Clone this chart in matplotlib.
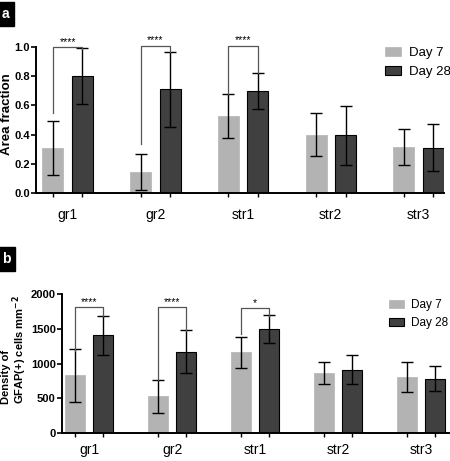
import matplotlib.pyplot as plt
import numpy as np

plt.rcParams['font.family'] = ['Liberation Sans', 'DejaVu Sans']

groups = ['gr1', 'gr2', 'str1', 'str2', 'str3']

# panel a: area fraction
area_d7 = [0.31, 0.145, 0.53, 0.40, 0.315]
area_d7_err = [0.185, 0.125, 0.15, 0.15, 0.125]
area_d28 = [0.80, 0.71, 0.70, 0.395, 0.31]
area_d28_err = [0.19, 0.255, 0.125, 0.20, 0.16]

# panel b: GFAP(+) density
dens_d7 = [828, 529, 1159, 865, 803]
dens_d7_err = [375, 240, 220, 155, 215]
dens_d28 = [1409, 1168, 1495, 913, 779]
dens_d28_err = [280, 310, 205, 210, 180]

# significance brackets: (group index, top, left leg end, right leg end, label)
sig_a = [(0, 1.0, 0.55, 0.985, '****'),
         (1, 1.01, 0.335, 0.965, '****'),
         (2, 1.01, 0.68, 0.825, '****')]
sig_b = [(0, 1815, 1185, 1680, '****'),
         (1, 1815, 765, 1470, '****'),
         (2, 1800, 1430, 1690, '*')]

light = '#b3b3b3'
dark = '#404040'
w = 0.24
off = 0.168

W, H = 450, 461
fig = plt.figure(figsize=(W / 100, H / 100), dpi=100)


def panel(rect, d7, e7, d28, e28, ylim, yticks, sig, lpos, xlim, lab_y, lfs):
    ax = fig.add_axes(rect)
    x = np.arange(len(groups))
    ekw = dict(ecolor='black', elinewidth=1.0, capsize=4, capthick=1.0)
    ax.bar(x - off, d7, w, color=light, edgecolor=light, linewidth=0.5,
           yerr=e7, error_kw=ekw, label='Day 7', zorder=2)
    ax.bar(x + off, d28, w, color=dark, edgecolor='black', linewidth=0.8,
           yerr=e28, error_kw=ekw, label='Day 28', zorder=2)
    ax.set_xlim(*xlim)
    ax.set_ylim(*ylim)
    ax.set_yticks(yticks)
    ax.set_xticks(np.concatenate([x - off, x + off]))
    ax.set_xticklabels([''] * (2 * len(groups)))
    for i, g in enumerate(groups):
        ax.text(i, lab_y, g, transform=ax.get_xaxis_transform(),
                ha='center', va='top', fontsize=10)
    ax.tick_params(axis='y', labelsize=8, width=1.2, length=3.5, pad=1)
    ax.tick_params(axis='x', width=1.0, length=3)
    for lab in ax.get_yticklabels():
        lab.set_fontweight('bold')
    for s in ['top', 'right']:
        ax.spines[s].set_visible(False)
    for s in ['left', 'bottom']:
        ax.spines[s].set_linewidth(1.4)
    for gi, top, l_end, r_end, txt in sig:
        xl, xr = gi - off, gi + off
        ax.plot([xl, xl, xr, xr], [l_end, top, top, r_end], color='#555555',
                lw=0.9, clip_on=False, zorder=3)
        ax.text(gi, top, txt, ha='center', va='bottom', fontsize=7.5,
                clip_on=False)
    ax.legend(loc='upper left', bbox_to_anchor=lpos, frameon=False,
              fontsize=lfs, handlelength=1.25, handleheight=0.7,
              handletextpad=0.6, labelspacing=0.5, borderaxespad=0,
              borderpad=0)
    return ax


# axes rectangles from pixel extents (left, top, right, bottom)
def rect(l, t, r, b):
    return [l / W, 1 - b / H, (r - l) / W, (b - t) / H]


ax_a = panel(rect(36, 47, 444, 193), area_d7, area_d7_err,
             area_d28, area_d28_err, (0, 1.0), [0, 0.2, 0.4, 0.6, 0.8, 1.0],
             sig_a, (0.855, 1.0), (-0.36, 4.29), -0.10, 9.5)
ax_a.set_yticklabels(['0.0', '0.2', '0.4', '0.6', '0.8', '1.0'],
                     fontweight='bold')

ax_b = panel(rect(62, 294, 449, 433), dens_d7, dens_d7_err,
             dens_d28, dens_d28_err, (0, 2000), [0, 500, 1000, 1500, 2000],
             sig_b, (0.845, 0.965), (-0.33, 4.34), -0.072, 8.5)

# y labels
fig.text(7 / W, 1 - 114 / H, 'Area fraction', rotation=90, ha='center',
         va='center', fontweight='bold', fontsize=9.5)
fig.text(6 / W, 1 - 404 / H, 'Density of', rotation=90, ha='center',
         va='bottom', fontweight='bold', fontsize=8)
fig.text(19.5 / W, 1 - 404 / H, 'GFAP(+) cells mm$^{\\mathbf{-2}}$',
         rotation=90, ha='center', va='bottom', fontweight='bold', fontsize=8)

# panel letters
for letter, yb in [('a', 0.955), ('b', 0.423)]:
    fig.text(0.004, yb, letter, color='white', fontweight='bold',
             fontsize=10, ha='left', va='bottom',
             bbox=dict(boxstyle='square,pad=0.35', fc='black', ec='black'))

fig.savefig('out.png', dpi=100)
